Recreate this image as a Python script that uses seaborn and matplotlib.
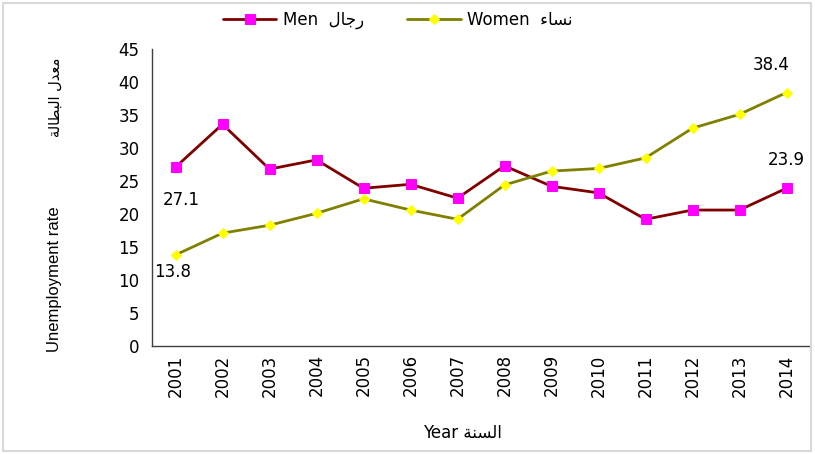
import matplotlib
matplotlib.use("Agg")
import matplotlib.pyplot as plt
import seaborn as sns
import pandas as pd
from matplotlib.patches import Rectangle

years = [str(y) for y in range(2001, 2015)]
men = [27.1, 33.6, 26.8, 28.2, 23.9, 24.5, 22.4, 27.3, 24.2, 23.2, 19.2, 20.6, 20.6, 23.9]
women = [13.8, 17.1, 18.3, 20.1, 22.3, 20.6, 19.2, 24.4, 26.5, 26.9, 28.5, 33.0, 35.1, 38.4]
yticks = list(range(0, 50, 5))

# Arabic words in visual (shaped) order
ar_men = "\uFEDD\uFE8E\uFE9F\uFEAD"            # رجال
ar_women = "\uFE80\uFE8E\uFEB4\uFEE7"          # نساء
ar_year = "\uFE94\uFEE8\uFEB4\uFEDF\uFE8D"     # السنة
ar_rate = "\uFE94\uFEDF\uFE8E\uFEC4\uFE92\uFEDF\uFE8D \uFEDD\uFEAA\uFECC\uFEE3"  # معدل البطالة

label_men = "Men  " + ar_men
label_women = "Women  " + ar_women

sns.set_style("white")
plt.rcParams["font.family"] = ["DejaVu Sans"]
plt.rcParams["text.color"] = "black"
plt.rcParams["xtick.color"] = "black"
plt.rcParams["ytick.color"] = "black"

df = pd.DataFrame({"Year": years, "Men": men, "Women": women})

fig = plt.figure(figsize=(8.15, 4.54), dpi=100)
ax = fig.add_axes([152 / 815, 1 - 346 / 454, (810 - 152) / 815, (346 - 49) / 454])

sns.lineplot(data=df, x="Year", y="Men", ax=ax, color="#800000", linewidth=2,
             marker="s", markersize=6.5, markerfacecolor="#FF00FF",
             markeredgecolor="#FF00FF", label=label_men, legend=False)
sns.lineplot(data=df, x="Year", y="Women", ax=ax, color="#808000", linewidth=2,
             marker="D", markersize=5, markerfacecolor="#FFFF00",
             markeredgecolor="#FFFF00", label=label_women, legend=False)

ax.set_xlim(-0.5, len(years) - 0.5)
ax.set_ylim(0, 45)
ax.set_yticks(yticks)
ax.set_yticklabels([str(t) for t in yticks], fontsize=12)
ax.set_xticks(range(len(years)))
ax.set_xticklabels(years, rotation=90, fontsize=12)
ax.set_xticks([i - 0.5 for i in range(len(years) + 1)], minor=True)
ax.tick_params(axis="x", which="major", length=0, pad=6, colors="black")
ax.tick_params(axis="x", which="minor", length=5, width=1, color="#404040", direction="out")
ax.tick_params(axis="y", which="major", length=5, width=1, color="#404040", direction="out",
               pad=4, labelcolor="black")
ax.set_xlabel("")
ax.set_ylabel("")
for s in ["top", "right"]:
    ax.spines[s].set_visible(False)
for s in ["left", "bottom"]:
    ax.spines[s].set_color("#404040")
    ax.spines[s].set_linewidth(1)

# value annotations
ax.annotate(f"{men[0]}", (0, men[0]), xytext=(4, -24), textcoords="offset points",
            ha="center", va="center", fontsize=12)
ax.annotate(f"{women[0]}", (0, women[0]), xytext=(-2, -12), textcoords="offset points",
            ha="center", va="center", fontsize=12)
ax.annotate(f"{men[-1]}", (len(years) - 1, men[-1]), xytext=(0, 20), textcoords="offset points",
            ha="center", va="center", fontsize=12)
ax.annotate(f"{women[-1]}", (len(years) - 1, women[-1]), xytext=(-11, 20), textcoords="offset points",
            ha="center", va="center", fontsize=12)

# axis labels
fig.text(55 / 815, 1 - 279 / 454, "Unemployment rate", rotation=90, ha="center", va="center",
         fontsize=12, family=["Liberation Sans"])
fig.text(55 / 815, 1 - 97 / 454, ar_rate, rotation=90, ha="center", va="center", fontsize=10.5)
fig.text(462 / 815, 1 - 433 / 454, "Year " + ar_year, ha="center", va="center", fontsize=12)

handles, labels = ax.get_legend_handles_labels()
leg = fig.legend(handles, labels, loc="center", bbox_to_anchor=(398 / 815, 1 - 20 / 454),
                 ncol=2, frameon=False, handlelength=3.2, columnspacing=2.6,
                 handletextpad=0.4, prop={"family": ["DejaVu Sans"], "size": 12})

fig.patches.append(Rectangle((3 / 815, 3 / 454), 808 / 815, 448 / 454, transform=fig.transFigure,
                             fill=False, edgecolor="#d9d9d9", linewidth=1.5))

fig.savefig("out.png", dpi=100)
